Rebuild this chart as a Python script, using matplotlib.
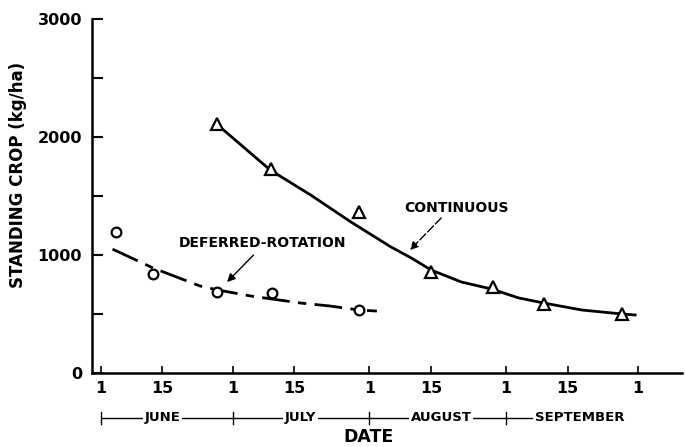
import numpy as np
import matplotlib
matplotlib.use("Agg")
import matplotlib.pyplot as plt

plt.rcParams['font.family'] = ['DejaVu Sans']
plt.rcParams['font.weight'] = 'bold'

# days counted from 1 June
defer_day = [3.6, 11.9, 26.5, 39.0, 58.6]
defer_val = [1195, 839, 690, 678, 534]
defer_curve_day = [2.7, 11.9, 22.6, 26.7, 34.0, 45.4, 52.0, 58.6, 62.7]
defer_curve_val = [1050, 890, 737, 703, 653, 593, 568, 534, 525]

cont_day = [26.5, 38.7, 58.6, 75.0, 89.0, 100.6, 118.4]
cont_val = [2110, 1729, 1364, 856, 729, 585, 500]
cont_curve_day = [27.1, 38.5, 47.7, 56.8, 65.9, 70.5, 75.0, 81.9, 88.7, 94.9, 100.6, 109.2, 118.4, 121.3]
cont_curve_val = [2085, 1720, 1508, 1280, 1068, 975, 873, 771, 712, 636, 593, 534, 500, 492]

tick_days = [0, 14, 30, 44, 61, 75, 92, 106, 122]
tick_labels = ['1', '15', '1', '15', '1', '15', '1', '15', '1']
month_starts = [0, 30, 61, 92]
months = ['JUNE', 'JULY', 'AUGUST', 'SEPTEMBER']
month_centers = [14.1, 45.4, 77.3, 108.8]

fig = plt.figure(figsize=(6.85, 4.47), dpi=100)
ax = fig.add_axes([0.134, 0.1655, 0.862, 0.792])

ax.plot(cont_curve_day, cont_curve_val, color='black', lw=2)
ax.plot(cont_day, cont_val, linestyle='none', marker='^', ms=8,
        mfc='white', mec='black', mew=1.6)
ax.plot(defer_curve_day, defer_curve_val, color='black', lw=2,
        linestyle=(0, (10, 3, 3, 3)))
ax.plot(defer_day, defer_val, linestyle='none', marker='o', ms=7,
        mfc='white', mec='black', mew=1.6)

ax.text(80.7, 1398, 'CONTINUOUS', ha='center', va='center', fontsize=10)
ax.annotate('', xy=(70.2, 1042), xytext=(77.3, 1314),
            arrowprops=dict(arrowstyle='-|>', color='black', lw=1,
                            shrinkA=0, shrinkB=0, linestyle=(0, (6, 2)),
                            mutation_scale=12))
ax.text(36.7, 1102, 'DEFERRED-ROTATION', ha='center', va='center', fontsize=10)
ax.annotate('', xy=(28.7, 771), xytext=(34.7, 1000),
            arrowprops=dict(arrowstyle='-|>', color='black', lw=1,
                            shrinkA=0, shrinkB=0, mutation_scale=12))

ax.set_xlim(-2, 132)
ax.set_ylim(0, 3000)
ax.spines['top'].set_visible(False)
ax.spines['right'].set_visible(False)
ax.spines['left'].set_linewidth(1.8)
ax.spines['bottom'].set_linewidth(1.8)

ax.set_xticks(tick_days)
ax.set_xticklabels(tick_labels, fontsize=11.5, fontweight='bold')
ax.set_yticks([0, 1000, 2000, 3000])
ax.set_yticklabels(['0', '1000', '2000', '3000'], fontsize=11.5, fontweight='bold')
ax.set_yticks([500, 1500, 2500], minor=True)
ax.tick_params(axis='y', which='both', direction='in', length=8, width=1.5, pad=7)
ax.tick_params(axis='x', direction='in', length=5, width=1.2, pad=6)

ax.set_ylabel('STANDING CROP (kg/ha)', fontsize=12, fontweight='bold')
ax.yaxis.set_label_coords(-0.11, 0.56)

tr = ax.get_xaxis_transform()
yb = -0.127
ax.plot([month_starts[0], 98], [yb, yb], color='black', lw=1, transform=tr, clip_on=False)
for d in month_starts:
    ax.plot([d, d], [yb - 0.018, yb + 0.018], color='black', lw=1, transform=tr, clip_on=False)
for m, c in zip(months, month_centers):
    ax.text(c, yb, m, transform=tr, ha='center', va='center', fontsize=9.5,
            fontweight='bold', bbox=dict(facecolor='white', edgecolor='none', pad=1.0))

ax.text(60.9, -0.18, 'DATE', transform=tr, ha='center', va='center',
        fontsize=12.5, fontweight='bold')

fig.savefig('out.png', dpi=100)
